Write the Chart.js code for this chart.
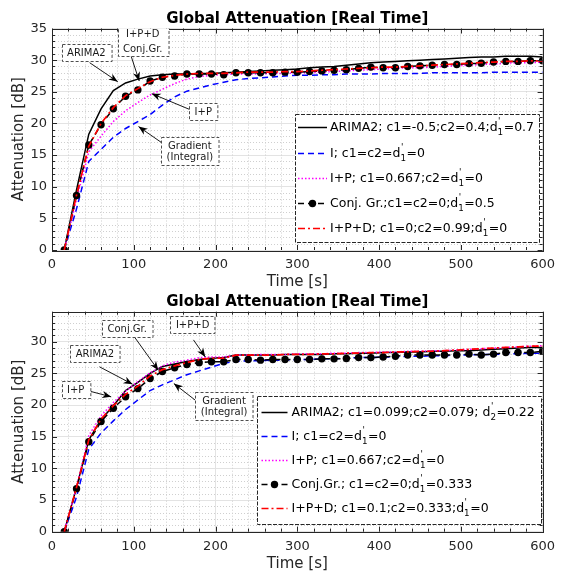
<!DOCTYPE html>
<html><head><meta charset="utf-8"><title>Global Attenuation</title>
<script src="https://cdn.jsdelivr.net/npm/chart.js@4.4.1/dist/chart.umd.min.js"></script>
<style>
html,body{margin:0;padding:0;background:#fff;overflow:hidden}
#wrap{position:relative;width:562px;height:575px}
#wrap canvas{position:absolute;left:0;top:0}
</style></head><body>
<div id="wrap"><canvas id="c1" width="562" height="575"></canvas><canvas id="c2" width="562" height="575"></canvas></div>
<script>
// ---------- data ----------
const time = [15,30,45,60,75,90,105,120,135,150,165,180,195,210,225,240,255,270,285,300,315,330,345,360,375,390,405,420,435,450,465,480,495,510,525,540,555,570,585,600];

// top panel
const arimaTop = [0,9.5,18.3,22.3,25.2,26.4,27.0,27.5,27.7,27.8,27.8,27.9,27.9,28.0,28.1,28.2,28.3,28.4,28.5,28.6,28.8,28.9,29.0,29.2,29.4,29.6,29.7,29.8,29.9,30.0,30.1,30.2,30.3,30.4,30.5,30.5,30.6,30.6,30.6,30.5];
const iTop     = [0,6.5,14.0,15.9,17.8,19.2,20.3,21.4,22.9,24.2,25.1,25.6,26.1,26.5,26.9,27.1,27.2,27.35,27.5,27.6,27.6,27.7,27.7,27.8,27.8,27.8,27.9,27.9,27.9,27.9,28.0,28.0,28.0,28.0,28.0,28.1,28.1,28.1,28.1,28.1];
const ipTop    = [0,8.0,15.5,18.0,20.3,22.0,23.3,24.5,25.4,26.3,27.0,27.4,27.6,27.7,27.8,27.8,27.8,27.9,27.9,28.0,28.0,28.1,28.2,28.3,28.4,28.5,28.6,28.7,28.8,28.8,28.9,29.0,29.1,29.2,29.3,29.4,29.5,29.6,29.6,29.7];
const conjTop  = [0,8.6,16.6,19.8,22.3,24.3,25.3,26.7,27.3,27.5,27.8,27.8,27.8,27.7,28.0,28.0,28.0,28.0,28.1,28.1,28.2,28.3,28.4,28.5,28.7,28.9,28.8,28.8,29.0,29.1,29.2,29.3,29.3,29.45,29.5,29.7,29.8,29.8,29.9,29.9];
const ipdTop   = [0,8.7,16.4,20.0,22.5,24.4,25.5,26.6,27.3,27.6,27.8,27.9,27.9,27.9,28.0,28.1,28.1,28.1,28.2,28.2,28.3,28.4,28.5,28.6,28.7,28.8,28.9,28.9,29.0,29.1,29.2,29.3,29.4,29.5,29.6,29.7,29.8,29.8,29.9,29.9];

// bottom panel
const arimaBot = [0,7.0,14.5,17.7,19.9,22.3,23.6,25.0,26.1,26.5,26.9,27.2,27.4,27.5,27.9,27.9,27.9,27.9,28.0,28.0,28.0,28.0,28.1,28.1,28.2,28.2,28.3,28.3,28.4,28.4,28.5,28.5,28.6,28.6,28.7,28.8,28.9,29.0,29.1,29.1];
const iBot     = [0,5.5,13.0,15.6,17.5,19.3,20.8,22.3,23.2,24.0,24.8,25.4,26.0,26.6,26.9,27.0,27.0,27.1,27.1,27.2,27.2,27.3,27.3,27.4,27.5,27.5,27.6,27.6,27.7,27.7,27.8,27.8,27.9,27.9,28.0,28.0,28.1,28.1,28.2,28.2];
const ipBot    = [0,7.0,15.2,18.3,20.4,22.2,23.7,25.1,26.2,26.8,27.1,27.5,27.6,27.6,27.9,27.9,28.0,28.0,28.0,28.1,28.1,28.1,28.2,28.2,28.3,28.3,28.4,28.4,28.5,28.5,28.6,28.6,28.7,28.8,28.9,29.0,29.1,29.2,29.3,29.4];
const conjBot  = [0,6.8,14.2,17.4,19.5,21.3,22.6,24.2,25.3,25.9,26.4,26.7,26.85,26.85,27.2,27.2,27.1,27.2,27.2,27.2,27.2,27.3,27.3,27.35,27.5,27.5,27.6,27.7,27.9,27.9,27.9,27.9,27.9,28.05,27.9,28.05,28.3,28.3,28.3,28.5];
const ipdBot   = [0,7.0,14.5,17.8,19.9,21.7,23.0,24.6,25.6,26.2,26.7,27.2,27.4,27.4,27.9,27.9,27.9,27.9,28.0,28.0,28.0,28.1,28.1,28.2,28.2,28.3,28.3,28.4,28.4,28.5,28.5,28.6,28.7,28.8,28.9,29.0,29.1,29.2,29.3,29.3];

const labelsTop = ['ARIMA2; c1=-0.5;c2=0.4;d′₁=0.7','I; c1=c2=d′₁=0','I+P; c1=0.667;c2=d′₁=0','Conj. Gr.;c1=c2=0;d′₁=0.5','I+P+D; c1=0;c2=0.99;d′₁=0'];
const labelsBot = ['ARIMA2; c1=0.099;c2=0.079; d′₂=0.22','I; c1=c2=d′₁=0','I+P; c1=0.667;c2=d′₁=0','Conj.Gr.; c1=c2=0;d′₁=0.333','I+P+D; c1=0.1;c2=0.333;d′₁=0'];

const xTickVals = [0,100,200,300,400,500,600];
const yTickValsTop = [0,5,10,15,20,25,30,35];
const yTickValsBot = [0,5,10,15,20,25,30];

const chartTitle = 'Global Attenuation [Real Time]';
const xTitle = 'Time [s]';
const yTitle = 'Attenuation [dB]';

const notesTop = [
  {text:['ARIMA2'], at:[42,31.15], tail:[46,29.6], head:[80.4,26.6]},
  {text:['I+P+D','Conj.Gr.'], at:[111,33.05], tail:[96.6,30.7], head:[106.7,26.7], lh:15, padY:0},
  {text:['I+P'], at:[185,21.85], tail:[168.5,22.2], head:[122,24.7]},
  {text:['Gradient','(Integral)'], at:[168.6,15.6], tail:[133.7,17.0], head:[105.8,19.5]}
];
const notesBot = [
  {text:['Conj.Gr.'], at:[92,32.15], tail:[100.6,30.8], head:[130,25.5]},
  {text:['I+P+D'], at:[172,32.7], tail:[173,30.3], head:[187.5,27.6]},
  {text:['ARIMA2'], at:[52.5,28.2], tail:[58,26.05], head:[98.5,23.3]},
  {text:['I+P'], at:[29,22.4], tail:[46,22.2], head:[72.4,21.3]},
  {text:['Gradient','(Integral)'], at:[210.5,19.9], tail:[175,20.8], head:[149,23.4]}
];

// ---------- drawing helpers ----------
const FONT = "'DejaVu Sans','Liberation Sans',sans-serif";
const AX = '#262626';
const SUBS = {'₁':'1','₂':'2'};

function drawRich(ctx, text, x, y, size, color){
  ctx.save();
  ctx.fillStyle = color; ctx.textAlign = 'left'; ctx.textBaseline = 'middle';
  let cx = x, buf = '';
  const flush = () => { if(!buf) return; ctx.font = size+'px '+FONT; ctx.fillText(buf, cx, y); cx += ctx.measureText(buf).width; buf=''; };
  for (let i=0;i<text.length;i++){
    const ch = text[i];
    if (ch === '′' && SUBS[text[i+1]]){
      flush();
      const s = size*0.7;
      ctx.font = s+'px '+FONT;
      const d = SUBS[text[i+1]];
      ctx.fillText("'", cx+0.5, y - size*0.45);
      ctx.fillText(d, cx, y + size*0.38);
      cx += Math.max(ctx.measureText(d).width, ctx.measureText("'").width) + 0.5;
      i++;
    } else buf += ch;
  }
  flush();
  ctx.restore();
}

function arrow(ctx, x0,y0,x1,y1){
  ctx.save();
  ctx.setLineDash([]); ctx.strokeStyle='#000'; ctx.fillStyle='#000'; ctx.lineWidth=0.9;
  ctx.beginPath(); ctx.moveTo(x0,y0); ctx.lineTo(x1,y1); ctx.stroke();
  const ang = Math.atan2(y1-y0,x1-x0), L=9, W=3.6;
  const c=Math.cos(ang), s=Math.sin(ang);
  const bx=x1-L*c, by=y1-L*s, nx=x1-0.7*L*c, ny=y1-0.7*L*s;
  ctx.beginPath(); ctx.moveTo(x1,y1); ctx.lineTo(bx-s*W, by+c*W); ctx.lineTo(nx,ny); ctx.lineTo(bx+s*W, by-c*W); ctx.closePath(); ctx.fill();
  ctx.restore();
}

const framePlugin = {
  id:'frame',
  beforeDatasetsDraw(chart, args, o){
    const {ctx, chartArea:a, scales:{x,y}} = chart;
    ctx.save();
    ctx.strokeStyle = '#cfcfcf'; ctx.lineWidth = 1; ctx.setLineDash([1,2]);
    for (let v = x.min + o.xMinor; v < x.max; v += o.xMinor){
      if (xTickVals.includes(v)) continue;
      const p = Math.round(x.getPixelForValue(v))+0.5;
      ctx.beginPath(); ctx.moveTo(p,a.top); ctx.lineTo(p,a.bottom); ctx.stroke();
    }
    for (let v = 1; v < y.max; v += 1){
      if (v % 5 === 0) continue;
      const p = Math.round(y.getPixelForValue(v))+0.5;
      ctx.beginPath(); ctx.moveTo(a.left,p); ctx.lineTo(a.right,p); ctx.stroke();
    }
    ctx.restore();
  },
  afterDatasetsDraw(chart, args, o){
    const {ctx, chartArea:a, scales:{x,y}} = chart;
    ctx.save();
    ctx.strokeStyle = AX; ctx.lineWidth = 1; ctx.setLineDash([]);
    ctx.beginPath();
    for (let v = x.min; v <= x.max; v += o.xMinor){
      const p = Math.round(x.getPixelForValue(v))+0.5;
      const L = (v % 100 === 0) ? 5 : 3;
      ctx.moveTo(p,a.bottom); ctx.lineTo(p,a.bottom-L);
      ctx.moveTo(p,a.top); ctx.lineTo(p,a.top+L);
    }
    for (let v = 0; v <= y.max; v += 1){
      const p = Math.round(y.getPixelForValue(v))+0.5;
      const L = (v % 5 === 0) ? 5 : 3;
      ctx.moveTo(a.left,p); ctx.lineTo(a.left+L,p);
      ctx.moveTo(a.right,p); ctx.lineTo(a.right-L,p);
    }
    ctx.stroke();
    ctx.strokeRect(Math.round(a.left)+0.5, Math.round(a.top)+0.5, Math.round(a.right-a.left), Math.round(a.bottom-a.top));
    ctx.restore();
  },
  afterDraw(chart, args, o){
    const {ctx, chartArea:a} = chart;
    ctx.save();
    ctx.fillStyle = '#000'; ctx.font = 'bold 15px '+FONT; ctx.textAlign='center'; ctx.textBaseline='alphabetic';
    ctx.fillText(o.title, (a.left+a.right)/2, o.titleY);
    ctx.restore();
  }
};

const notesPlugin = {
  id:'notes',
  afterDatasetsDraw(chart, args, o){
    const {ctx, chartArea:a, scales:{x,y}} = chart;
    ctx.save();
    ctx.beginPath(); ctx.rect(a.left, a.top, a.right-a.left, a.bottom-a.top); ctx.clip();
    for (const n of o.items){
      arrow(ctx, x.getPixelForValue(n.tail[0]), y.getPixelForValue(n.tail[1]), x.getPixelForValue(n.head[0]), y.getPixelForValue(n.head[1]));
    }
    for (const n of o.items){
      ctx.font = o.size+'px '+FONT;
      const lh = n.lh || o.lh;
      const padY = (n.padY !== undefined) ? n.padY : o.padY;
      const w = Math.max(...n.text.map(t=>ctx.measureText(t).width)) + 2*o.padX;
      const h = n.text.length*lh + 2*padY;
      const cx = x.getPixelForValue(n.at[0]), cy = y.getPixelForValue(n.at[1]);
      const bx = Math.round(cx-w/2)+0.5, by = Math.round(cy-h/2)+0.5;
      ctx.fillStyle='#fff'; ctx.fillRect(bx,by,w,h);
      ctx.strokeStyle='#3a3a3a'; ctx.lineWidth=0.9; ctx.setLineDash([3,2]);
      ctx.strokeRect(bx,by,w,h);
      ctx.setLineDash([]);
      ctx.fillStyle='#1a1a1a'; ctx.textAlign='center'; ctx.textBaseline='middle';
      n.text.forEach((t,i)=>ctx.fillText(t, cx, by + padY + lh*(i+0.5)));
    }
    ctx.restore();
  }
};

const legendPlugin = {
  id:'boxLegend',
  afterDatasetsDraw(chart, args, o){
    const ctx = chart.ctx;
    ctx.save();
    ctx.fillStyle='#fff'; ctx.fillRect(o.x,o.y,o.w,o.h);
    ctx.strokeStyle='#262626'; ctx.lineWidth=1; ctx.setLineDash([4,1.5]);
    ctx.strokeRect(o.x+0.5,o.y+0.5,o.w,o.h);
    chart.data.datasets.forEach((ds,i)=>{
      const yy = Math.round(o.first + i*o.step)+0.5;
      ctx.setLineDash(ds.borderDash || []);
      ctx.strokeStyle = ds.borderColor; ctx.lineWidth = ds.borderWidth;
      ctx.beginPath(); ctx.moveTo(o.lx0,yy); ctx.lineTo(o.lx1,yy); ctx.stroke();
      if (ds.pointRadius > 0){
        ctx.setLineDash([]); ctx.fillStyle = ds.pointBackgroundColor;
        ctx.beginPath(); ctx.arc((o.lx0+o.lx1)/2, yy, ds.pointRadius, 0, Math.PI*2); ctx.fill();
      }
      drawRich(ctx, ds.label, o.tx, yy, o.size, '#000');
    });
    ctx.restore();
  }
};

function pts(arr){ return time.map((t,i)=>({x:t, y:arr[i]})); }

function makeChart(id, series, labels, yTicks, yMax, pad, xHeight, titleY, legend, notes){
  const styles = [
    {borderColor:'#000000', borderDash:[], order:5},
    {borderColor:'#0000ff', borderDash:[6,4], order:4},
    {borderColor:'#ff00ff', borderDash:[1.5,2], order:3},
    {borderColor:'#000000', borderDash:[6,4], order:2, pointRadius:3.7, pointBackgroundColor:'#000'},
    {borderColor:'#ff0000', borderDash:[7,3,2,3], order:1, borderWidth:1.7}
  ];
  const datasets = series.map((s,i)=>Object.assign({
    label: labels[i], data: pts(s), borderWidth:1.5, pointRadius:0, pointBorderWidth:0,
    pointHoverRadius:0, tension:0, fill:false
  }, styles[i]));
  return new Chart(document.getElementById(id), {
    type:'line',
    data:{datasets},
    options:{
      responsive:false, animation:false, events:[],
      layout:{padding:pad},
      plugins:{
        legend:{display:false}, tooltip:{enabled:false}, title:{display:false},
        frame:{xMinor:20, title:chartTitle, titleY},
        boxLegend:legend,
        notes:{items:notes, size:10, lh:11, padX:5.5, padY:3}
      },
      scales:{
        x:{type:'linear', min:0, max:600,
          afterBuildTicks:(s)=>{ s.ticks = xTickVals.map(v=>({value:v})); },
          afterFit:(s)=>{ s.height = xHeight; },
          ticks:{font:{family:FONT,size:13}, color:AX, padding:7, maxRotation:0},
          grid:{color:'#e3e3e3', lineWidth:1, drawTicks:false},
          border:{display:false},
          title:{display:true, text:xTitle, font:{family:FONT,size:15}, color:AX, padding:{top:0,bottom:0}}
        },
        y:{type:'linear', min:0, max:yMax,
          afterBuildTicks:(s)=>{ s.ticks = yTicks.map(v=>({value:v})); },
          afterFit:(s)=>{ s.width = 52; },
          ticks:{font:{family:FONT,size:13}, color:AX, padding:5},
          grid:{color:'#e3e3e3', lineWidth:1, drawTicks:false},
          border:{display:false},
          title:{display:true, text:yTitle, font:{family:FONT,size:15}, color:AX, padding:{top:10,bottom:0}}
        }
      }
    },
    plugins:[framePlugin, notesPlugin, legendPlugin]
  });
}

makeChart('c1', [arimaTop,iTop,ipTop,conjTop,ipdTop], labelsTop, yTickValsTop, 35,
  {top:28.5, right:14.5, bottom:283.5, left:0}, 41.5, 22.7,
  {x:295, y:114, w:244, h:128, first:127.3, step:25.25, lx0:298, lx1:327, tx:330, size:12.5},
  notesTop);

makeChart('c2', [arimaBot,iBot,ipBot,conjBot,ipdBot], labelsBot, yTickValsBot, 34.75,
  {top:311.7, right:14.5, bottom:1.8, left:0}, 41.5, 305.7,
  {x:257, y:396, w:284, h:128, first:411.7, step:24.15, lx0:261.5, lx1:287.5, tx:291.5, size:12.5},
  notesBot);
</script>
</body></html>
